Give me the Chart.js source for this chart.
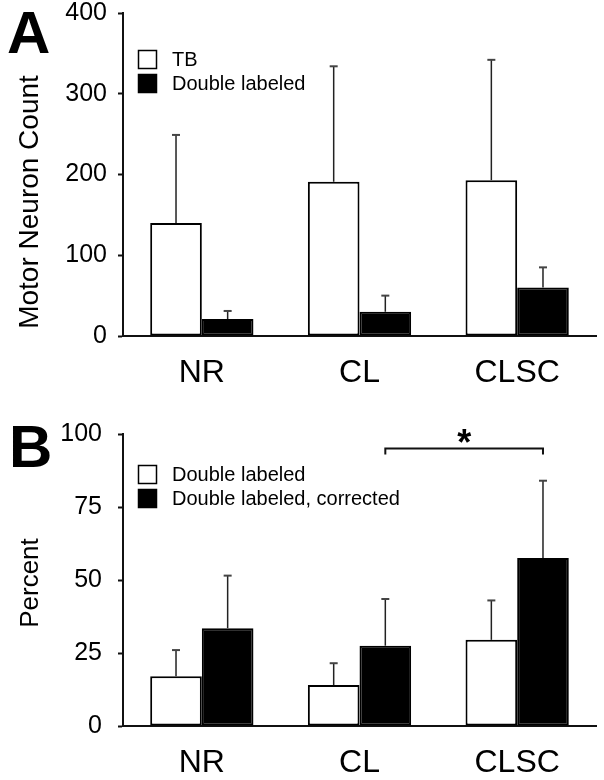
<!DOCTYPE html>
<html>
<head>
<meta charset="utf-8">
<script src="https://cdn.jsdelivr.net/npm/chart.js@4.4.1/dist/chart.umd.min.js"></script>
<style>
	body { margin: 0; background: #fff; }
	canvas { display: block; }
</style>
</head>
<body>
<canvas id="chartA" width="604" height="390"></canvas>
<canvas id="chartB" width="604" height="390"></canvas>
<script>
"use strict";

// values
const categories = ['NR', 'CL', 'CLSC'];

const countTB = [140, 191, 193];
const countTBErr = [109, 143, 149];
const countDouble = [21, 30, 60];
const countDoubleErr = [10, 20, 25];
const countTicks = [0, 100, 200, 300, 400];

const pctDouble = [17, 14, 29.5];
const pctDoubleErr = [9, 7.5, 13.5];
const pctCorrected = [33.5, 27.5, 57.5];
const pctCorrectedErr = [18, 16, 26.5];
const pctTicks = [0, 25, 50, 75, 100];

// significance bracket in B: corrected series, CL vs CLSC
const sigFrom = 1;
const sigTo = 2;
const sigLevel = 95;
const sigMark = '*';

const FONT = "'Liberation Sans', Arial, Helvetica, sans-serif";

// error bars, up only
const errorBars = {
	id: 'errorBars',
	afterDatasetsDraw(chart) {
		const ctx = chart.ctx;
		const y = chart.scales.y;
		chart.data.datasets.forEach((ds, di) => {
			if (!ds.errors) return;
			const meta = chart.getDatasetMeta(di);
			meta.data.forEach((bar, i) => {
				const top = y.getPixelForValue(ds.data[i] + ds.errors[i]);
				ctx.save();
				ctx.strokeStyle = '#222';
				ctx.lineWidth = 1.5;
				ctx.beginPath();
				ctx.moveTo(bar.x, bar.y);
				ctx.lineTo(bar.x, top);
				ctx.stroke();
				ctx.strokeStyle = '#444';
				ctx.lineWidth = 2;
				ctx.beginPath();
				ctx.moveTo(bar.x - 4, top);
				ctx.lineTo(bar.x + 4, top);
				ctx.stroke();
				ctx.restore();
			});
		});
	}
};

// boxed legend inside the plot, axis title, panel letter, bracket
const figureBits = {
	id: 'figureBits',
	afterDraw(chart, args, opts) {
		const ctx = chart.ctx;
		ctx.save();
		chart.data.datasets.forEach((ds, i) => {
			const by = opts.legendY + i * 24;
			ctx.fillStyle = ds.backgroundColor;
			ctx.fillRect(opts.legendX, by, 19, 19);
			ctx.strokeStyle = '#000';
			ctx.lineWidth = 1.5;
			ctx.strokeRect(opts.legendX + 0.5, by + 0.5, 18, 18);
			ctx.fillStyle = '#000';
			ctx.font = '20px ' + FONT;
			ctx.textBaseline = 'middle';
			ctx.textAlign = 'left';
			ctx.fillText(ds.label, opts.legendX + 34, by + 10);
		});

		ctx.font = 'bold 60px ' + FONT;
		ctx.textBaseline = 'alphabetic';
		ctx.fillText(opts.letter, opts.letterX, opts.letterY);

		// y axis title, rotated
		ctx.save();
		ctx.translate(opts.titleX, opts.titleY);
		ctx.rotate(-Math.PI / 2);
		ctx.font = opts.titleSize + 'px ' + FONT;
		ctx.textAlign = 'center';
		ctx.textBaseline = 'alphabetic';
		ctx.fillText(opts.title, 0, 0);
		ctx.restore();

		if (opts.bracket) {
			const meta = chart.getDatasetMeta(1);
			const x1 = meta.data[sigFrom].x;
			const x2 = meta.data[sigTo].x;
			const yb = chart.scales.y.getPixelForValue(sigLevel);
			ctx.strokeStyle = '#111';
			ctx.lineWidth = 2;
			ctx.beginPath();
			ctx.moveTo(x1, yb + 6);
			ctx.lineTo(x1, yb);
			ctx.lineTo(x2, yb);
			ctx.lineTo(x2, yb + 6);
			ctx.stroke();
			ctx.font = 'bold 36px ' + FONT;
			ctx.textAlign = 'center';
			ctx.fillText(sigMark, (x1 + x2) / 2, yb + 6);
		}
		ctx.restore();
	}
};

function makeChart(id, sets, ticks, maxV, o) {
	const data = {
		labels: categories,
		datasets: sets.map((s) => ({
			label: s.label,
			data: s.data,
			errors: s.errors,
			backgroundColor: s.color,
			borderColor: '#000',
			borderWidth: 2,
			borderSkipped: false,
			categoryPercentage: 0.655,
			barPercentage: 1.0
		}))
	};
	const config = {
		type: 'bar',
		data: data,
		options: {
			responsive: false,
			animation: false,
			layout: { padding: { left: 0, top: o.top, right: 8, bottom: 0 } },
			plugins: {
				legend: { display: false },
				tooltip: { enabled: false },
				figureBits: o.bits
			},
			scales: {
				x: {
					grid: { display: false },
					border: { color: '#111', width: 2 },
					ticks: { color: '#000', font: { family: FONT, size: 32 }, padding: 10 },
					afterFit: (s) => { s.height = 54; s.paddingLeft = 0; s.paddingRight = 0; }
				},
				y: {
					min: 0,
					max: maxV,
					afterBuildTicks: (s) => { s.ticks = ticks.map((v) => ({ value: v })); },
					grid: { drawOnChartArea: false, tickLength: 5, color: '#111', tickWidth: 2 },
					border: { color: '#111', width: 2 },
					ticks: { color: '#000', font: { family: FONT, size: 25 }, padding: o.tickPad },
					afterFit: (s) => { s.width = 123; s.paddingTop = 0; s.paddingBottom = 0; }
				}
			}
		},
		plugins: [errorBars, figureBits]
	};
	return new Chart(document.getElementById(id), config);
}

makeChart('chartA', [
	{ label: 'TB', data: countTB, errors: countTBErr, color: '#fff' },
	{ label: 'Double labeled', data: countDouble, errors: countDoubleErr, color: '#000' }
], countTicks, 400, {
	top: 13, tickPad: 11,
	bits: { legendX: 138, legendY: 50, letter: 'A', letterX: 7, letterY: 53,
		title: 'Motor Neuron Count', titleSize: 28, titleX: 38, titleY: 202, bracket: false }
});

makeChart('chartB', [
	{ label: 'Double labeled', data: pctDouble, errors: pctDoubleErr, color: '#fff' },
	{ label: 'Double labeled, corrected', data: pctCorrected, errors: pctCorrectedErr, color: '#000' }
], pctTicks, 100, {
	top: 44, tickPad: 16,
	bits: { legendX: 138, legendY: 75, letter: 'B', letterX: 9, letterY: 77,
		title: 'Percent', titleSize: 26, titleX: 38, titleY: 193, bracket: true }
});
</script>
</body>
</html>
